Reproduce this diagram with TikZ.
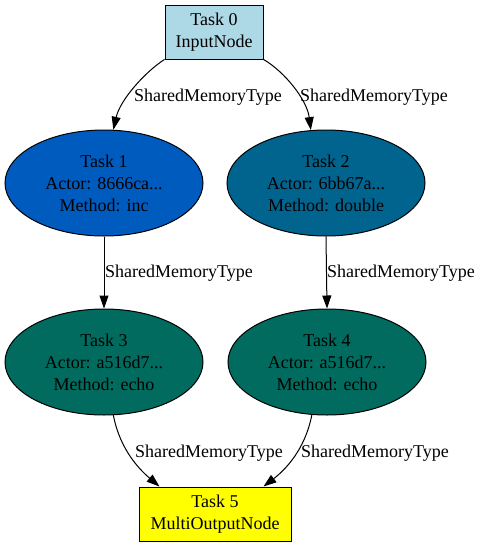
\documentclass[tikz,border=0pt]{standalone}
\usepackage{fontspec}
\setmainfont{Liberation Serif}
\usetikzlibrary{arrows.meta,shapes.geometric}
\definecolor{lblue}{HTML}{ADD8E6}
\definecolor{taskA}{HTML}{005BBF}
\definecolor{taskB}{HTML}{00648F}
\definecolor{taskC}{HTML}{006B5E}
\definecolor{yel}{HTML}{FFFF00}
\tikzset{
  base/.style={draw=black, line width=1pt, align=center, inner sep=0pt, font=\fontsize{18}{22}\selectfont},
  boxnode/.style={base, rectangle},
  ellnode/.style={base, ellipse, minimum width=198pt, minimum height=106pt},
  edge/.style={draw=black, line width=1pt, -{Triangle[length=13pt,width=9pt]}},
  elabel/.style={inner sep=0pt, anchor=west, font=\fontsize{18}{22}\selectfont}
}
\begin{document}
\begin{tikzpicture}[x=1pt,y=-1pt]
\useasboundingbox (0,0) rectangle (482,547);
\node[boxnode, fill=lblue, minimum width=98pt, minimum height=54pt] (t0) at (214,32) {Task 0\\InputNode};
\node[ellnode, fill=taskA] (t1) at (104,183) {Task 1\\Actor: 8666ca...\\Method: inc};
\node[ellnode, fill=taskB] (t2) at (326,183) {Task 2\\Actor: 6bb67a...\\Method: double};
\node[ellnode, fill=taskC] (t3) at (104,362) {Task 3\\Actor: a516d7...\\Method: echo};
\node[ellnode, fill=taskC] (t4) at (327,362) {Task 4\\Actor: a516d7...\\Method: echo};
\node[boxnode, fill=yel, minimum width=152pt, minimum height=54pt] (t5) at (215,514) {Task 5\\MultiOutputNode};

\draw[edge] (t0.209) .. controls (145,72) and (120,100) .. (t1.80);
\draw[edge] (t0.-29) .. controls (285,72) and (307,100) .. (t2.106);
\draw[edge] (t1.south) -- (t3.north);
\draw[edge] (t2.south) -- (t4.north);
\draw[edge] (t3.-80) .. controls (120,450) and (140,470) .. ([xshift=21pt]t5.north west);
\draw[edge] (t4.-106) .. controls (305,450) and (285,470) .. ([xshift=-28pt]t5.north east);

\node[elabel] (l01) at (134,97) {SharedMemoryType};
\node[elabel] (l02) at (300,97) {SharedMemoryType};
\node[elabel] (l13) at (105,273) {SharedMemoryType};
\node[elabel] (l24) at (327,273) {SharedMemoryType};
\node[elabel] (l35) at (135,453) {SharedMemoryType};
\node[elabel] (l45) at (301,453) {SharedMemoryType};
\end{tikzpicture}
\end{document}
